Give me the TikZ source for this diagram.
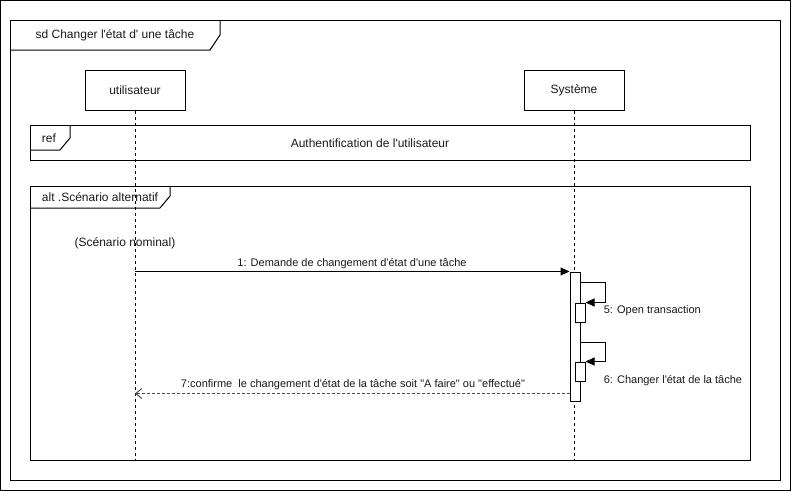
\documentclass[tikz,border=0pt]{standalone}
\usepackage{fontspec}
\setmainfont{Liberation Sans}[Ligatures=TeXOff]
\usetikzlibrary{arrows.meta}
\begin{document}
\begin{tikzpicture}[x=1pt,y=-1pt, line width=1pt,
  every node/.style={font=\fontsize{12}{14}\selectfont, text=black!90},
  lbl/.style={font=\fontsize{11}{13}\selectfont},
  actor/.style={draw, fill=white, minimum width=100pt, minimum height=40pt, inner sep=0pt},
  lifeline/.style={dash pattern=on 3pt off 3pt},
  actbar/.style={draw, fill=white, minimum width=10pt, inner sep=0pt},
  syncmsg/.style={-{Triangle[length=9pt,width=8pt]}},
  replymsg/.style={draw=black!70, dash pattern=on 3pt off 2pt, -{Straight Barb[length=6pt,width=10pt,line width=1pt]}}]
\useasboundingbox (0,0) rectangle (792,491);
\draw (0.5,0.5) rectangle (790.5,490.5);

% sequence diagram frame
\draw (10,20) rectangle (780,480);
\draw (10,50) -- (210,50) -- (220,35) -- (220,20);
\node (sdname) at (115,35.5) {sd Changer l'état d' une tâche};

% participants and lifelines
\node[actor] (user) at (135,90) {utilisateur};
\node[actor] (sys) at (574,90) {Système};
\coordinate (userend) at (135,460);
\coordinate (sysend) at (574,460);
\draw[lifeline] (user.south) -- (userend);
\draw[lifeline] (sys.south) -- (sysend);

% ref fragment
\draw (30,125) rectangle (750,160);
\draw (30,150) -- (60,150) -- (70,138) -- (70,125);
\node (reftag) at (49,138) {ref};
\node (reftext) at (370,143) {Authentification de l'utilisateur};

% alt fragment
\draw (30,186) rectangle (750,460);
\draw (30,208) -- (160,208) -- (170,196) -- (170,186);
\node (alttag) at (100,197) {alt .Scénario alternatif};
\node (guard) at (125,243) {(Scénario nominal)};

% activations
\node[actbar, minimum height=129pt] (act) at (575,336.5) {};
\node[actbar, minimum height=19pt] (act5) at (580,312.5) {};
\node[actbar, minimum height=19pt] (act6) at (580,371.5) {};

% messages
\draw[syncmsg] (user.south |- act.north west) -- (act.north west);
\node[lbl] (m1) at (352,264) {1: Demande de changement d'état d'une tâche};

\draw[syncmsg] ([yshift=-11pt]act.north east) -- ++(25,0) |- (act5.north east);
\node[lbl, anchor=west] (m5) at (600,311) {5: Open transaction};

\draw[syncmsg] ([yshift=-71pt]act.north east) -- ++(25,0) |- (act6.north east);
\node[lbl, anchor=west] (m6) at (600,381) {6: Changer l'état de la tâche};

\coordinate (r7) at ([yshift=8pt]act.south west);
\draw[replymsg] (r7) -- (user.south |- r7);
\node[lbl] (m7) at (353,385) {7:confirme\ \ le changement d'état de la tâche soit "A faire" ou "effectué"};
\end{tikzpicture}
\end{document}
